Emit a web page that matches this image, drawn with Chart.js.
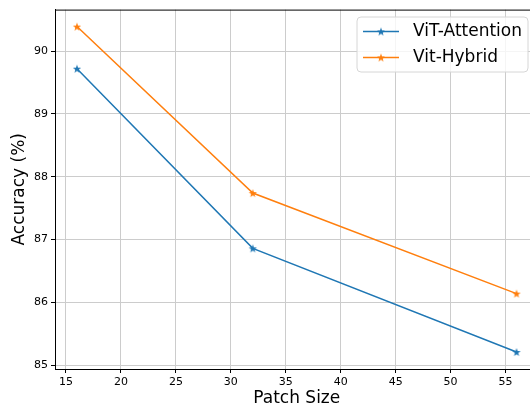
<!DOCTYPE html>
<html>
<head>
<meta charset="utf-8">
<script src="https://cdn.jsdelivr.net/npm/chart.js@4"></script>
<style>
  html, body { margin: 0; padding: 0; overflow: hidden; background: #fff; }
</style>
</head>
<body>
<canvas id="myChart" width="545" height="406"></canvas>
<script>
var patchSizes = [16, 32, 56];
var vitAttention = [89.72, 86.86, 85.21];
var vitHybrid = [90.39, 87.74, 86.14];
var xTicks = [15, 20, 25, 30, 35, 40, 45, 50, 55];
var yTicks = [85, 86, 87, 88, 89, 90];

var FONT = "'DejaVu Sans', sans-serif";

function makeStar(color) {
    var c = document.createElement('canvas');
    c.width = 10;
    c.height = 10;
    var g = c.getContext('2d');
    var r1 = 4.3, r2 = 1.8;
    g.beginPath();
    for (var i = 0; i < 10; i++) {
        var r = i % 2 == 0 ? r1 : r2;
        var a = -Math.PI / 2 + i * Math.PI / 5;
        var px = 5 + r * Math.cos(a);
        var py = 5 + r * Math.sin(a) + 0.4;
        if (i == 0) g.moveTo(px, py); else g.lineTo(px, py);
    }
    g.closePath();
    g.fillStyle = color;
    g.fill();
    return c;
}

function toPoints(xs, ys) {
    return xs.map(function (x, i) { return {x: x, y: ys[i]}; });
}

var blue = '#1f77b4';
var orange = '#ff7f0e';
var starBlue = makeStar(blue);
var starOrange = makeStar(orange);

// top/right frame + matplotlib style legend
var framePlugin = {
    id: 'frame',
    afterDraw: function (chart) {
        var ctx = chart.ctx;
        var a = chart.chartArea;
        ctx.save();
        ctx.strokeStyle = '#000';
        ctx.lineWidth = 1;
        ctx.beginPath();
        ctx.moveTo(a.left, a.top + 0.5);
        ctx.lineTo(a.right, a.top + 0.5);
        ctx.lineTo(a.right - 0.5, a.bottom);
        ctx.stroke();

        // legend box
        var bx = 357, by = 17, bw = 171, bh = 55, rad = 4;
        ctx.beginPath();
        ctx.moveTo(bx + rad, by);
        ctx.arcTo(bx + bw, by, bx + bw, by + bh, rad);
        ctx.arcTo(bx + bw, by + bh, bx, by + bh, rad);
        ctx.arcTo(bx, by + bh, bx, by, rad);
        ctx.arcTo(bx, by, bx + bw, by, rad);
        ctx.closePath();
        ctx.fillStyle = 'rgba(255,255,255,0.8)';
        ctx.fill();
        ctx.strokeStyle = '#d6d6d6';
        ctx.lineWidth = 1;
        ctx.stroke();

        var rows = [31.5, 57.5];
        chart.data.datasets.forEach(function (ds, i) {
            var y = rows[i];
            ctx.strokeStyle = ds.borderColor;
            ctx.lineWidth = 1.5;
            ctx.beginPath();
            ctx.moveTo(363, y);
            ctx.lineTo(399, y);
            ctx.stroke();
            ctx.drawImage(ds.pointStyle, 381 - 5, y - 5);
            ctx.fillStyle = '#000';
            ctx.font = '17px ' + FONT;
            ctx.textBaseline = 'middle';
            ctx.textAlign = 'left';
            ctx.fillText(ds.label, 413, y + 0.5);
        });
        ctx.restore();
    }
};

var ctx = document.getElementById('myChart').getContext('2d');
var myChart = new Chart(ctx, {
    type: 'line',
    data: {
        datasets: [{
            label: 'ViT-Attention',
            data: toPoints(patchSizes, vitAttention),
            borderColor: blue,
            backgroundColor: blue,
            borderWidth: 1.5,
            pointStyle: starBlue,
            pointRadius: 5,
            tension: 0
        },
        {
            label: 'Vit-Hybrid',
            data: toPoints(patchSizes, vitHybrid),
            borderColor: orange,
            backgroundColor: orange,
            borderWidth: 1.5,
            pointStyle: starOrange,
            pointRadius: 5,
            tension: 0
        }]
    },
    options: {
        responsive: false,
        animation: false,
        layout: { padding: { top: 8, right: 3, left: 0, bottom: 0 } },
        plugins: {
            legend: { display: false },
            tooltip: { enabled: false }
        },
        scales: {
            x: {
                type: 'linear',
                min: 14,
                max: 58,
                afterBuildTicks: function (axis) {
                    axis.ticks = xTicks.map(function (v) { return {value: v}; });
                },
                afterFit: function (axis) { axis.height = 37; },
                grid: { color: '#cccccc', lineWidth: 1, tickLength: 4, tickColor: '#000', tickWidth: 1 },
                border: { color: '#000', width: 1 },
                ticks: { color: '#000', font: { family: FONT, size: 11 }, padding: 3, maxRotation: 0 },
                title: { display: true, text: 'Patch Size', color: '#000', font: { family: FONT, size: 17, lineHeight: 1 }, padding: { top: 0, bottom: -1 } }
            },
            y: {
                type: 'linear',
                min: 84.94,
                max: 90.66,
                afterBuildTicks: function (axis) {
                    axis.ticks = yTicks.map(function (v) { return {value: v}; });
                },
                afterFit: function (axis) { axis.width = 55; },
                grid: { color: '#cccccc', lineWidth: 1, tickLength: 4, tickColor: '#000', tickWidth: 1 },
                border: { color: '#000', width: 1 },
                ticks: { color: '#000', font: { family: FONT, size: 11 }, padding: 3 },
                title: { display: true, text: 'Accuracy (%)', color: '#000', font: { family: FONT, size: 17, lineHeight: 1 }, padding: { top: 11.5, bottom: 0 } }
            }
        }
    },
    plugins: [framePlugin]
});
</script>
</body>
</html>
